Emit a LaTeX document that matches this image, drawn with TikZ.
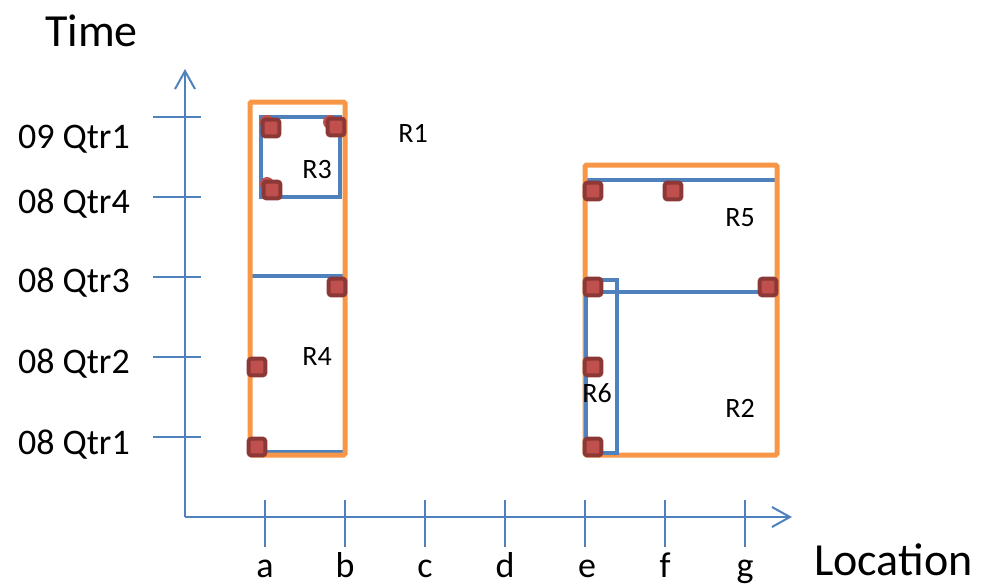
\documentclass[tikz,border=0pt]{standalone}
\usepackage{fontspec}
\setmainfont{Carlito}
\usetikzlibrary{arrows.meta,shadows}
\definecolor{ob}{RGB}{247,150,70}
\definecolor{bb}{RGB}{79,129,189}
\definecolor{mk}{RGB}{192,80,77}
\definecolor{mkd}{RGB}{140,56,54}
\begin{document}
\begin{tikzpicture}[x=0.75pt,y=-0.75pt,
 axis/.style={draw=bb, line width=1.5pt},
 orect/.style={draw=ob, line width=3.75pt, rounded corners=1pt},
 brect/.style={draw=bb, line width=3pt},
 pt/.style={rectangle, rounded corners=2pt, fill=mk, draw=mkd, line width=3pt, minimum size=12.5pt, inner sep=0pt, drop shadow={opacity=0.2,shadow xshift=1pt,shadow yshift=-1pt}},
 dot/.style={circle, fill=mk, draw=none, minimum size=10.5pt, inner sep=0pt},
 lab/.style={font=\fontsize{27}{32}\selectfont, inner sep=0pt},
 big/.style={font=\fontsize{34.5}{40}\selectfont, inner sep=0pt},
 rl/.style={font=\fontsize{21}{25}\selectfont, inner sep=0pt}]
\useasboundingbox (0,0) rectangle (981,585);
% axes
\coordinate (O) at (185,517);
\coordinate (Ytop) at (185,69);
\coordinate (Xend) at (792,517);
\draw[axis, -{Straight Barb[length=13.5pt,width=15pt]}] (O) -- (Ytop);
\draw[axis, -{Straight Barb[length=13.5pt,width=15pt]}] (O) -- (Xend);
\foreach \y in {117,197,277,357,437} \draw[axis] (153,\y) -- (201,\y);
\foreach \x in {265,345,...,745} \draw[axis] (\x,500) -- (\x,547);
% axis labels
\node[big, anchor=base west] (time) at (45,47) {Time};
\node[big, anchor=base west, text depth=0pt] (loc) at (814,575) {Location};
\node[lab, anchor=base east] (q9a) at (130,148) {09 Qtr1};
\node[lab, anchor=base east] (q84) at (130,213) {08 Qtr4};
\node[lab, anchor=base east] (q83) at (130,292) {08 Qtr3};
\node[lab, anchor=base east] (q82) at (130,373) {08 Qtr2};
\node[lab, anchor=base east] (q81) at (130,454) {08 Qtr1};
\foreach \x/\t in {265/a,345/b,425/c,505/d,587/e,665/f,745/g}
  \node[lab, anchor=base, text depth=0pt] (x\t) at (\x,577) {\t};
% rectangles
\draw[brect] (250,276) rectangle (345,452);
\draw[orect] (250,102) rectangle (345,455);
\draw[brect] (261,117) rectangle (340,197);
\draw[brect] (585,180) rectangle (777,292);
\draw[orect] (585,165) rectangle (777,455);
\draw[brect] (586,280) rectangle (617,453);
% region labels
\node[rl] (r1) at (413,133) {R1};
\node[rl] (r3) at (317,170) {R3};
\node[rl] (r4) at (317,357) {R4};
\node[rl] (r5) at (740,218) {R5};
\node[rl] (r6) at (597,393) {R6};
\node[rl] (r2) at (740,408) {R2};
% points
\node[dot] (c1) at (267,122) {};
\node[dot] (c2) at (330,122) {};
\node[dot] (c3) at (267,184) {};
\node[pt] (p1) at (271,128) {};
\node[pt] (p2) at (336,127) {};
\node[pt] (p3) at (272,190) {};
\node[pt] (p4) at (337,287) {};
\node[pt] (p5) at (257,367) {};
\node[pt] (p6) at (257,447) {};
\node[pt] (p7) at (593,191) {};
\node[pt] (p8) at (673,191) {};
\node[pt] (p9) at (593,287) {};
\node[pt] (p10) at (768,287) {};
\node[pt] (p11) at (593,367) {};
\node[pt] (p12) at (593,447) {};
\end{tikzpicture}
\end{document}
